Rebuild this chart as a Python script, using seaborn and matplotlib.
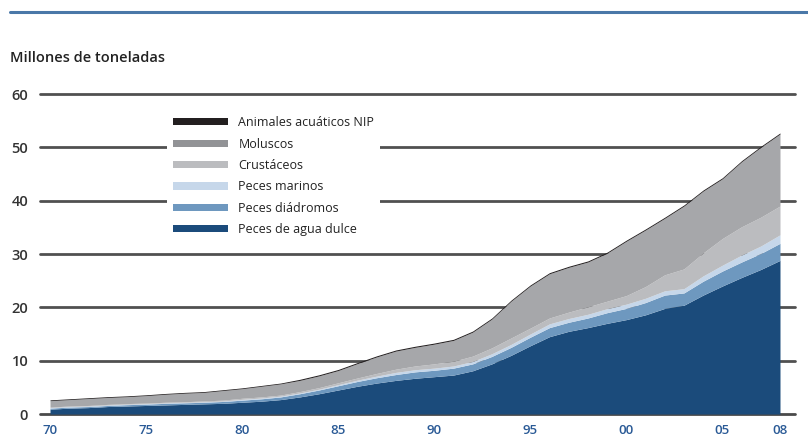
import matplotlib
matplotlib.use("Agg")
import matplotlib.pyplot as plt
import seaborn as sns
import numpy as np
from matplotlib.patches import Patch
from matplotlib.lines import Line2D

sns.set_theme(style="white")
plt.rcParams['font.family'] = ['Open Sans', 'DejaVu Sans']

years = list(range(1970, 2009))

agua_dulce = [0.9, 1.1, 1.2, 1.4, 1.5, 1.6, 1.7, 1.8, 1.9, 2.0,
              2.2, 2.4, 2.7, 3.2, 3.8, 4.5, 5.2, 5.8, 6.3, 6.7,
              7.0, 7.3, 8.1, 9.4, 11.0, 12.8, 14.5, 15.5, 16.2, 17.0,
              17.7, 18.6, 19.8, 20.4, 22.3, 24.0, 25.6, 27.1, 28.8]
diadromos = [0.2, 0.2, 0.2, 0.2, 0.25, 0.25, 0.3, 0.3, 0.3, 0.35,
             0.4, 0.45, 0.5, 0.6, 0.7, 0.8, 0.9, 1.0, 1.1, 1.2,
             1.2, 1.3, 1.3, 1.4, 1.5, 1.6, 1.7, 1.7, 1.8, 2.0,
             2.1, 2.3, 2.5, 2.3, 2.6, 2.8, 2.9, 3.0, 3.2]
marinos = [0.1, 0.1, 0.1, 0.1, 0.1, 0.1, 0.1, 0.1, 0.1, 0.1,
           0.15, 0.15, 0.15, 0.15, 0.15, 0.2, 0.25, 0.3, 0.4, 0.4,
           0.4, 0.4, 0.45, 0.5, 0.55, 0.6, 0.7, 0.7, 0.7, 0.75,
           0.8, 0.8, 0.8, 0.8, 1.0, 1.1, 1.3, 1.4, 1.6]
crustaceos = [0.1, 0.1, 0.1, 0.1, 0.1, 0.1, 0.1, 0.1, 0.15, 0.15,
              0.2, 0.2, 0.2, 0.25, 0.3, 0.35, 0.4, 0.5, 0.6, 0.7,
              0.8, 0.9, 1.0, 1.1, 1.2, 1.1, 1.1, 1.2, 1.4, 1.4,
              1.6, 2.2, 3.0, 3.7, 4.3, 5.0, 5.3, 5.4, 5.4]
moluscos = [1.2, 1.2, 1.3, 1.3, 1.3, 1.4, 1.5, 1.6, 1.6, 1.8,
            1.8, 2.0, 2.1, 2.1, 2.2, 2.3, 2.7, 3.1, 3.4, 3.5,
            3.7, 3.9, 4.5, 5.4, 6.9, 7.9, 8.3, 8.4, 8.4, 9.0,
            10.2, 10.6, 10.6, 11.8, 11.6, 11.2, 12.2, 13.1, 13.5]
nip = [0.15] * 13 + [0.2] * 26

series_names = ["Peces de agua dulce", "Peces diádromos", "Peces marinos",
                "Crustáceos", "Moluscos", "Animales acuáticos NIP"]
colors = ["#1b4b7b", "#6e98bf", "#c6d7ea", "#bbbcbf", "#a6a7aa", "#231f20"]
legend_colors = ["#1b4b7b", "#6e98bf", "#c6d7ea", "#bbbcbf", "#929396", "#231f20"]

xtick_years = [1970, 1975, 1980, 1985, 1990, 1995, 2000, 2005, 2008]
xtick_labels = ["70", "75", "80", "85", "90", "95", "00", "05", "08"]
ytick_vals = [0, 10, 20, 30, 40, 50, 60]

W, H = 808, 438
fig = plt.figure(figsize=(W / 100, H / 100), dpi=100)
ax = fig.add_axes([40 / W, 1 - 414 / H, (795 - 40) / W, (414 - 94) / H])

ax.set_xlim(1970 - 10 / 19.2, 2008 + 15 / 19.2)
ax.set_ylim(0, 60)

for v in ytick_vals:
    ax.axhline(v, color="#4a4a4a" if v == 0 else "#505050", lw=2.0, zorder=1, clip_on=False)

ax.stackplot(years, agua_dulce, diadromos, marinos, crustaceos, moluscos, nip,
             colors=colors, lw=0, zorder=2)

for s in ax.spines.values():
    s.set_visible(False)
ax.grid(False)

ax.set_yticks(ytick_vals)
ax.set_yticklabels([str(v) for v in ytick_vals], fontsize=10.5, color="#333333",
                   fontweight="semibold")
ax.set_xticks(xtick_years)
ax.set_xticklabels(xtick_labels, fontsize=9.5, color="#2a5a96", fontweight="semibold")
ax.tick_params(axis="y", length=0, pad=8.5)
ax.tick_params(axis="x", length=0, pad=7.0)

fs = 9
handles = [Patch(facecolor=c, edgecolor="none") for c in legend_colors]
leg = ax.legend(handles[::-1], series_names[::-1], loc="upper left",
                bbox_to_anchor=(167 / W, 1 - 110 / H), bbox_transform=fig.transFigure,
                frameon=True, fontsize=fs, handlelength=4.4, handleheight=0.5,
                handletextpad=0.8, labelspacing=0.67, borderpad=0.5, borderaxespad=0)
leg.get_frame().set_facecolor("white")
leg.get_frame().set_edgecolor("none")
leg.get_frame().set_alpha(1)
leg.set_zorder(5)
for t in leg.get_texts():
    t.set_color("#222222")

fig.text(10 / W, 1 - 58 / H, "Millones de toneladas", fontsize=10.5, color="#222222",
         fontweight="semibold", va="center", ha="left")
fig.add_artist(Line2D([10 / W, 1.0], [1 - 12 / H, 1 - 12 / H], color="#4a78a8", lw=2.2,
                      transform=fig.transFigure))

fig.savefig("out.png", dpi=100, facecolor="white")
